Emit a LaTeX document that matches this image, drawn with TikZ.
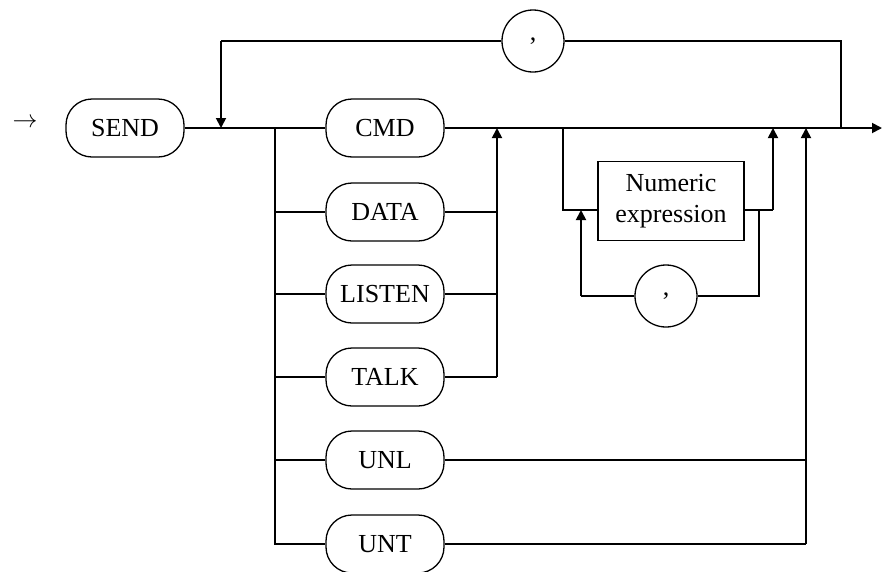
\documentclass[tikz,border=0pt]{standalone}
\usepackage{fontspec}
\setmainfont{Liberation Serif}
\usetikzlibrary{arrows.meta}
\begin{document}
\begin{tikzpicture}[x=1pt,y=-1pt,
  every node/.style={font=\fontsize{26}{31}\selectfont},
  term/.style={draw,line width=1.3pt,rounded corners=26pt,minimum width=118pt,minimum height=58pt,inner sep=0pt},
  circ/.style={draw,circle,line width=1.3pt,minimum size=62pt,inner sep=0pt},
  bx/.style={draw,line width=1.3pt,minimum width=146pt,minimum height=79pt,inner sep=0pt,align=center},
  ln/.style={line width=1.8pt},
  thin/.style={line width=1.1pt},
  arr/.style={-{Triangle[length=10pt,width=10pt]}}
]
\useasboundingbox (0,0) rectangle (887,571);
% nodes
\node (start) at (25,123) {$\rightarrow$};
\node[term] (send) at (125,128) {SEND};
\node[term] (cmd) at (385,128) {CMD};
\node[term] (data) at (385,212) {DATA};
\node[term] (listen) at (385,294) {LISTEN};
\node[term] (talk) at (385,377) {TALK};
\node[term] (unl) at (385,460) {UNL};
\node[term] (unt) at (385,544) {UNT};
\node[circ] (c1) at (533,41) {,};
\node[bx] (num) at (671,201) {Numeric\\expression};
\node[circ] (c2) at (666,296) {,};
% coordinates
\coordinate (split) at (275,128);
\coordinate (loopin) at (221,128);
\coordinate (loopintop) at (221,41);
\coordinate (loopout) at (841,128);
\coordinate (loopouttop) at (841,41);
\coordinate (end) at (882,128);
\coordinate (j1) at (497,128);
\coordinate (j1d) at (497,212);
\coordinate (j1l) at (497,294);
\coordinate (j1t) at (497,377);
\coordinate (nsplit) at (563,128);
\coordinate (nsplitd) at (563,210);
\coordinate (nin) at (598,210);
\coordinate (nout) at (744,210);
\coordinate (nj) at (773,210);
\coordinate (njtop) at (773,128);
\coordinate (rl) at (759,210);
\coordinate (rld) at (759,296);
\coordinate (ll) at (581,296);
\coordinate (llu) at (581,210);
\coordinate (j2) at (806,128);
\coordinate (j2l) at (806,460);
\coordinate (j2t) at (806,544);
\coordinate (bot) at (275,544);
% main line
\draw[ln] (send.east) -- (split) -- (cmd.west);
\draw[ln,arr] (cmd.east) -- (end);
% top loop
\draw[thin] (loopout) -- (loopouttop) -- (c1.east);
\draw[thin] (c1.west) -- (loopintop);
\draw[ln,arr] (loopintop) -- (loopin);
% branch
\draw[ln] (split) -- (bot) -- (unt.west);
\draw[ln] (275,212) -- (data.west);
\draw[ln] (275,294) -- (listen.west);
\draw[ln] (275,377) -- (talk.west);
\draw[thin] (275,460) -- (unl.west);
% right junction of DATA/LISTEN/TALK
\draw[ln] (data.east) -- (j1d);
\draw[ln] (listen.east) -- (j1l);
\draw[ln] (talk.east) -- (j1t);
\draw[ln,arr] (j1t) -- (j1);
% numeric expression
\draw[thin] (nsplit) -- (nsplitd) -- (nin);
\draw[ln] (nout) -- (nj);
\draw[ln,arr] (nj) -- (njtop);
\draw[ln] (rl) -- (rld) -- (c2.east);
\draw[ln] (c2.west) -- (ll);
\draw[ln,arr] (ll) -- (llu);
% UNL / UNT
\draw[thin] (unl.east) -- (j2l);
\draw[ln] (unt.east) -- (j2t);
\draw[ln,arr] (j2t) -- (j2);
\end{tikzpicture}
\end{document}
